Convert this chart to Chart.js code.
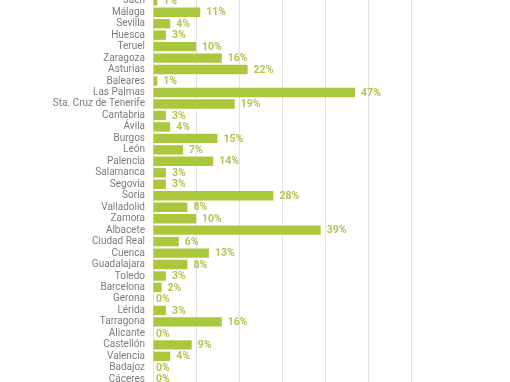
<!DOCTYPE html>
<html>
<head>
<meta charset="utf-8">
<script src="https://cdn.jsdelivr.net/npm/chart.js@4"></script>
<style>
html,body{margin:0;padding:0;background:#fff;overflow:hidden;width:510px;height:382px;}
#wrap{position:absolute;left:0;top:-19px;width:510px;height:418px;}
</style>
</head>
<body>
<div id="wrap"><canvas id="c" width="510" height="418"></canvas></div>
<script>
const categories = ["Jaén","Málaga","Sevilla","Huesca","Teruel","Zaragoza","Asturias","Baleares","Las Palmas","Sta. Cruz de Tenerife","Cantabria","Ávila","Burgos","León","Palencia","Salamanca","Segovia","Soria","Valladolid","Zamora","Albacete","Ciudad Real","Cuenca","Guadalajara","Toledo","Barcelona","Gerona","Lérida","Tarragona","Alicante","Castellón","Valencia","Badajoz","Cáceres"];
const values = [1,11,4,3,10,16,22,1,47,19,3,4,15,7,14,3,3,28,8,10,39,6,13,8,3,2,0,3,16,0,9,4,0,0];
const xTicks = [0,10,20,30,40,50,60];

const BAR = '#a9c83c';
const LABEL = '#afc653';

const valueLabels = {
  id:'valueLabels',
  afterDatasetsDraw(chart){
    const ctx = chart.ctx;
    const meta = chart.getDatasetMeta(0);
    ctx.save();
    ctx.font = 'bold 10.5px Roboto';
    ctx.fillStyle = LABEL;
    ctx.textAlign = 'left';
    ctx.textBaseline = 'middle';
    meta.data.forEach((bar,i)=>{
      const v = values[i];
      const x = v === 0 ? bar.x + 3 : bar.x + 6;
      ctx.fillText(v + '%', x, bar.y + 0.5);
    });
    ctx.restore();
  }
};

new Chart(document.getElementById('c'), {
  type:'bar',
  data:{
    labels:categories,
    datasets:[{data:values, backgroundColor:BAR, borderWidth:0, barPercentage:0.82, categoryPercentage:1}]
  },
  options:{
    indexAxis:'y',
    responsive:false,
    animation:false,
    layout:{padding:{left:0,right:99,top:0,bottom:0}},
    plugins:{legend:{display:false},title:{display:false},tooltip:{enabled:false}},
    scales:{
      x:{
        min:0,max:60,
        afterBuildTicks(s){ s.ticks = xTicks.map(v=>({value:v})); },
        ticks:{display:false},
        grid:{color:'#e2e2e2',lineWidth:1,drawTicks:false},
        border:{display:false},
        afterFit(s){ s.height = 0; }
      },
      y:{
        ticks:{color:'#7c7c7c',font:{family:'Roboto',size:10},padding:8,autoSkip:false},
        grid:{display:false,drawTicks:false},
        border:{display:false},
        afterFit(s){ s.width = 153; }
      }
    }
  },
  plugins:[valueLabels]
});
</script>
</body>
</html>
